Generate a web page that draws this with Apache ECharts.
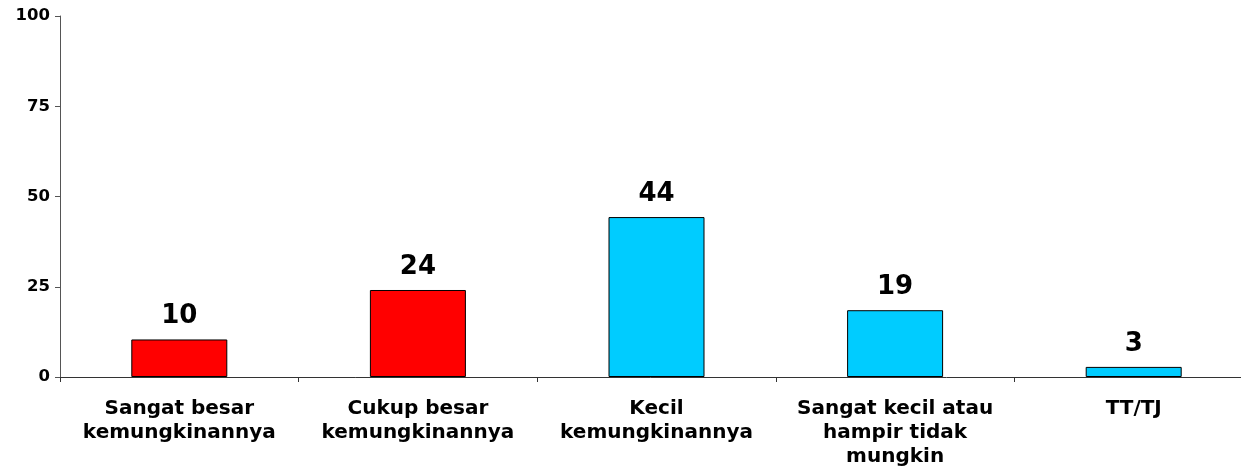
<!DOCTYPE html>
<html>
<head>
    <meta charset="utf-8">
    <title>ECharts</title>
    <script type="text/javascript" src="https://cdn.jsdelivr.net/npm/echarts@6/dist/echarts.min.js"></script>
    <style>
        html, body { margin: 0; padding: 0; background: #fff; }
    </style>
</head>
<body>
<div id="main" style="width: 1241px;height:471px;"></div>
<script type="text/javascript">
    // data
    var categories = ['Sangat besar\nkemungkinannya', 'Cukup besar\nkemungkinannya', 'Kecil\nkemungkinannya', 'Sangat kecil atau\nhampir tidak\nmungkin', 'TT/TJ'];
    var values = [10.4, 24.1, 44.3, 18.5, 2.8];
    var labels = ['10', '24', '44', '19', '3'];
    var barColors = ['#FF0000', '#FF0000', '#00CCFF', '#00CCFF', '#00CCFF'];
    var yTicks = [0, 25, 50, 75, 100];

    var font = 'Verdana, "DejaVu Sans", sans-serif';
    var myChart = echarts.init(document.getElementById('main'));

    var option = {
        animation: false,
        grid: {
            left: 60,
            right: -12,        // plot runs past the right edge in the original
            top: 16,
            bottom: 94,
            outerBoundsMode: 'none',
            containLabel: false
        },
        xAxis: {
            type: 'category',
            data: categories,
            axisLine: { lineStyle: { color: '#333', width: 1 } },
            axisTick: { show: true, length: 5, lineStyle: { color: '#333' } },
            axisLabel: {
                color: '#000',
                fontFamily: font,
                fontWeight: 'bold',
                fontSize: 20,
                lineHeight: 24,
                margin: 20,
                interval: 0
            }
        },
        yAxis: {
            type: 'value',
            min: yTicks[0],
            max: yTicks[yTicks.length - 1],
            interval: 25,
            splitLine: { show: false },
            axisLine: { show: true, lineStyle: { color: '#555', width: 1 } },
            axisTick: { show: true, length: 5, lineStyle: { color: '#555' } },
            axisLabel: {
                color: '#000',
                fontFamily: font,
                fontWeight: 'bold',
                fontSize: 16.5,
                margin: 10
            }
        },
        series: [
            {
                type: 'bar',
                barWidth: 96,
                data: values.map(function (v, i) {
                    return {
                        value: v,
                        itemStyle: { color: barColors[i] }
                    };
                }),
                itemStyle: {
                    borderColor: '#000',
                    borderWidth: 1
                },
                label: {
                    show: true,
                    position: 'top',
                    distance: 10,
                    color: '#000',
                    fontFamily: font,
                    fontWeight: 'bold',
                    fontSize: 26,
                    formatter: function (p) {
                        return labels[p.dataIndex];
                    }
                }
            }
        ]
    };
    myChart.setOption(option);
</script>
</body>
</html>
